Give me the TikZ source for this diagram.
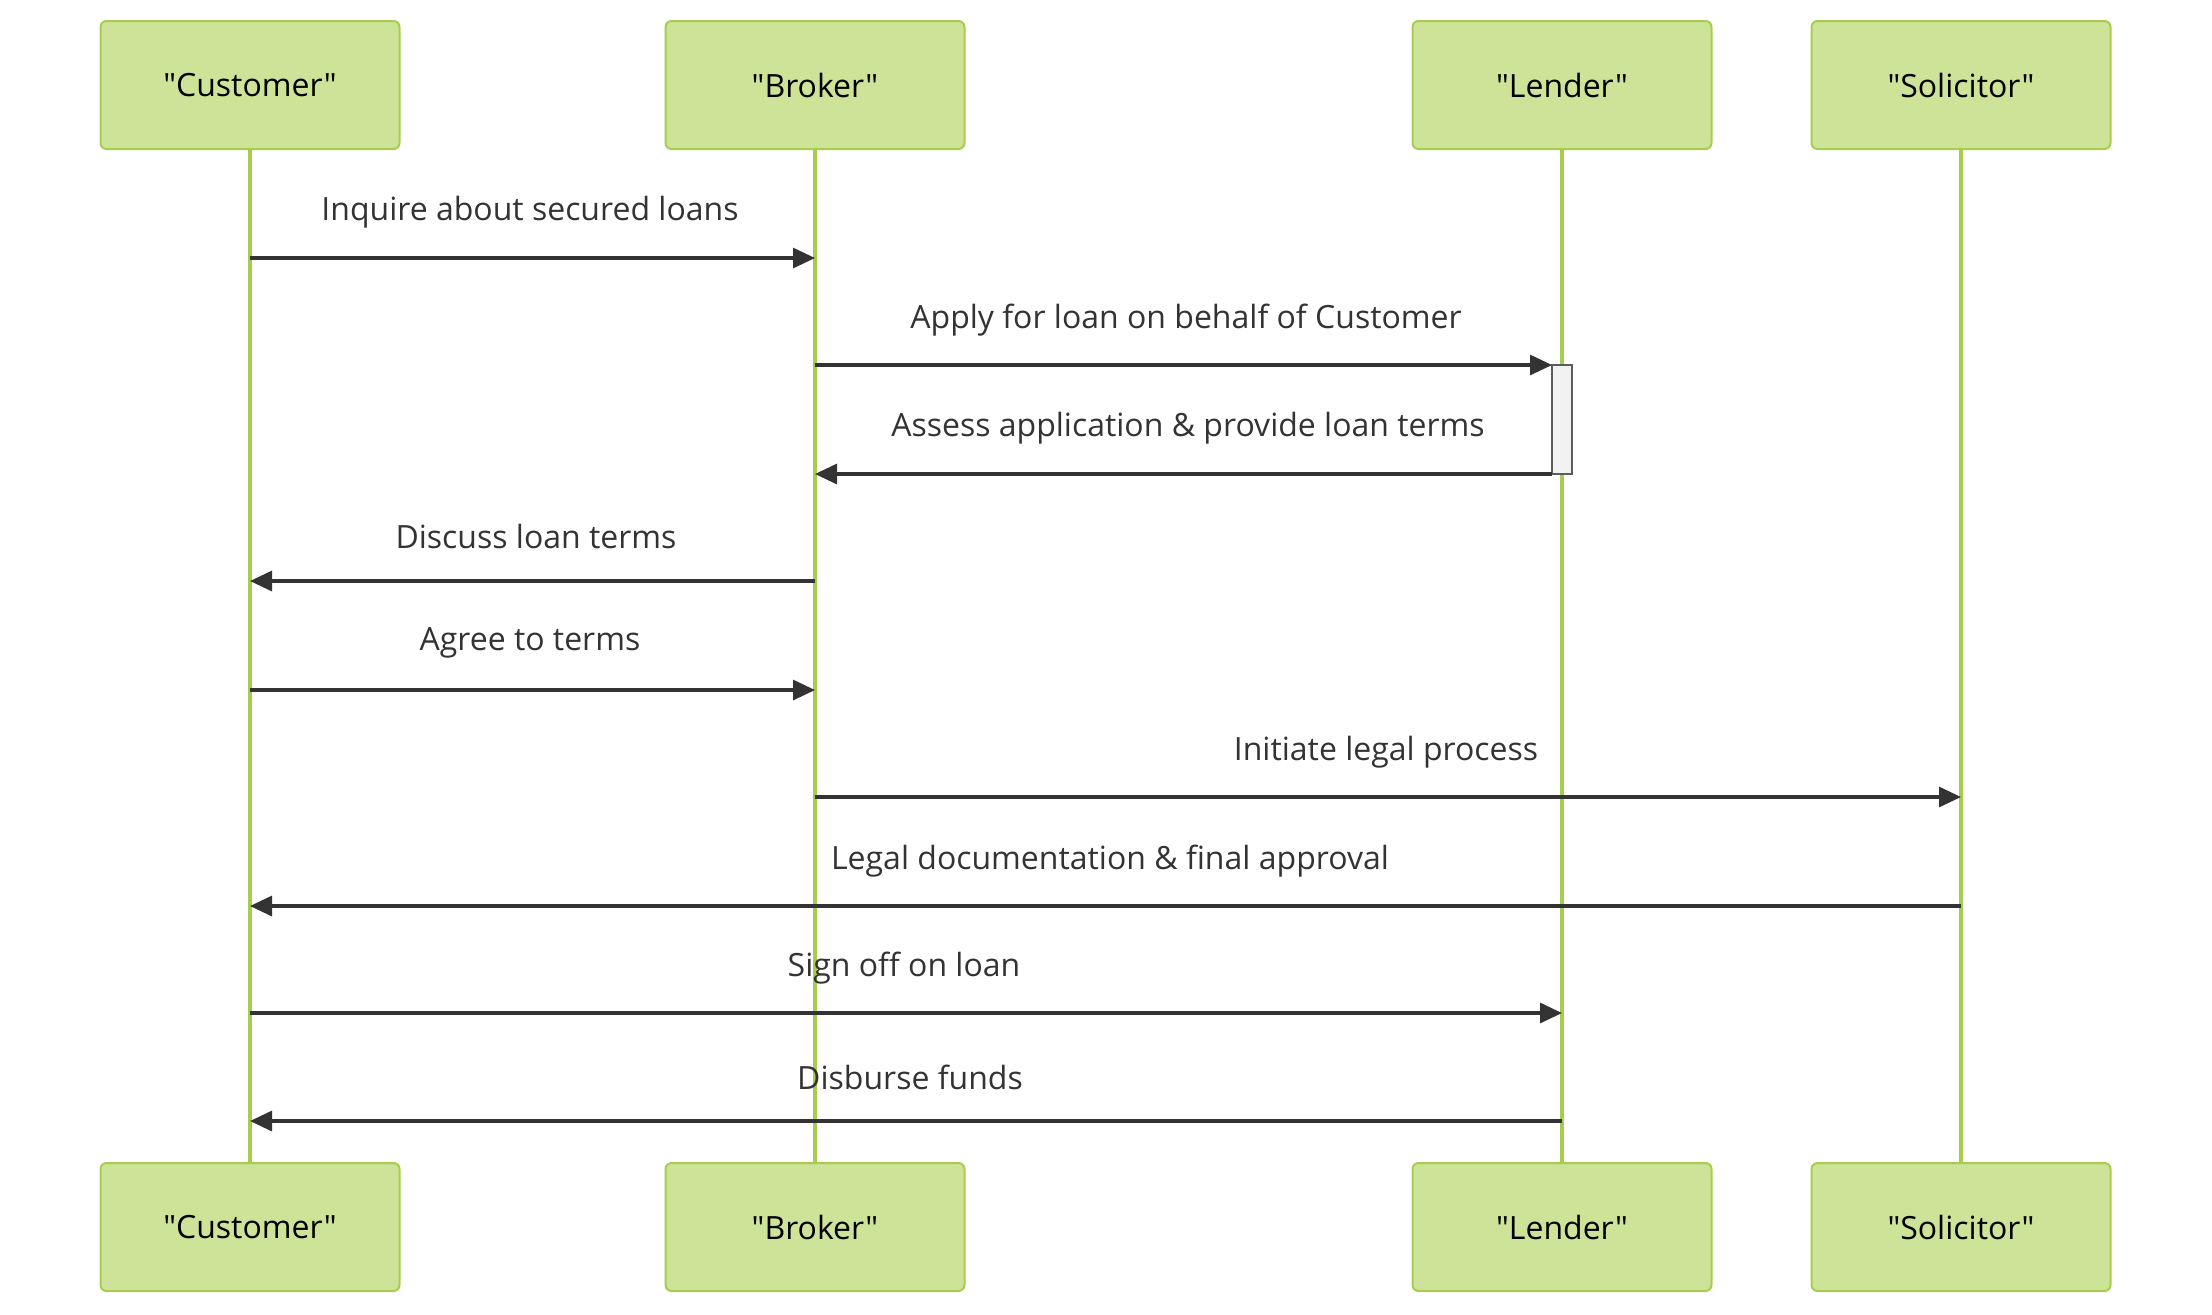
\documentclass[tikz,border=0pt]{standalone}
\usepackage{fontspec}
\setmainfont{Open Sans}[Ligatures=TeXOff]
\usetikzlibrary{arrows.meta}
\definecolor{actfill}{HTML}{CDE498}
\definecolor{actline}{HTML}{A9CC4E}
\definecolor{msgcol}{HTML}{333333}
\tikzset{
    actor/.style={draw=actline, fill=actfill, line width=1pt, rounded corners=3pt,
        minimum width=149.5pt, minimum height=64pt, text=black,
        font=\fontsize{16}{19}\selectfont},
    life/.style={actline, line width=2pt},
    msg/.style={msgcol, line width=1.6pt, -{Triangle[length=11pt,width=10pt]}},
    lbl/.style={text=msgcol, font=\fontsize{16}{19}\selectfont},
}

\begin{document}
\begin{tikzpicture}[x=0.5pt, y=-0.5pt]
    \useasboundingbox (0,0) rectangle (2212,1314);
    % actors
    \node[actor] (custTop) at (250,85) {"Customer"};
    \node[actor] (brokTop) at (815,85) {"Broker"};
    \node[actor] (lendTop) at (1562,85) {"Lender"};
    \node[actor] (soliTop) at (1961,85) {"Solicitor"};
    \node[actor] (custBot) at (250,1227) {"Customer"};
    \node[actor] (brokBot) at (815,1227) {"Broker"};
    \node[actor] (lendBot) at (1562,1227) {"Lender"};
    \node[actor] (soliBot) at (1961,1227) {"Solicitor"};
    % lifelines
    \draw[life] (custTop) -- (custBot);
    \draw[life] (brokTop) -- (brokBot);
    \draw[life] (lendTop) -- (lendBot);
    \draw[life] (soliTop) -- (soliBot);
    % activation of the lender
    \draw[draw=msgcol!80, fill=gray!10, line width=1pt] (1552,365) rectangle (1572,474);
    % messages
    \draw[msg] (custTop |- 0,258) -- (brokTop |- 0,258);
    \node[lbl] (m1) at (530,212) {Inquire about secured loans};
    \draw[msg] (brokTop |- 0,365) -- (1552,365);
    \node[lbl] (m2) at (1186,320) {Apply for loan on behalf of Customer};
    \draw[msg] (1552,474) -- (brokTop |- 0,474);
    \node[lbl] (m3) at (1188,428) {Assess application \& provide loan terms};
    \draw[msg] (brokTop |- 0,581) -- (custTop |- 0,581);
    \node[lbl] (m4) at (536,536) {Discuss loan terms};
    \draw[msg] (custTop |- 0,690) -- (brokTop |- 0,690);
    \node[lbl] (m5) at (530,643) {Agree to terms};
    \draw[msg] (brokTop |- 0,797) -- (soliTop |- 0,797);
    \node[lbl] (m6) at (1386,752) {Initiate legal process};
    \draw[msg] (soliTop |- 0,906) -- (custTop |- 0,906);
    \node[lbl] (m7) at (1110,861) {Legal documentation \& final approval};
    \draw[msg] (custTop |- 0,1013) -- (lendTop |- 0,1013);
    \node[lbl] (m8) at (904,968) {Sign off on loan};
    \draw[msg] (lendTop |- 0,1121) -- (custTop |- 0,1121);
    \node[lbl] (m9) at (910,1077) {Disburse funds};
\end{tikzpicture}
\end{document}
